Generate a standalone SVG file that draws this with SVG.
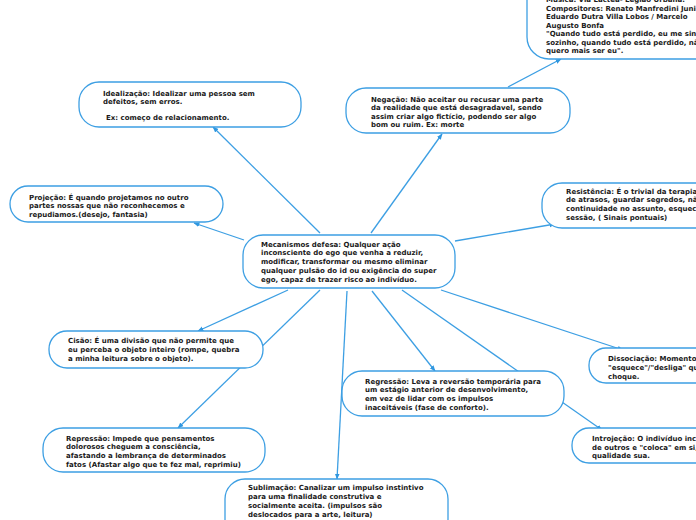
<svg xmlns="http://www.w3.org/2000/svg" width="696" height="520" viewBox="0 0 696 520">
<style>
.n{fill:#fff;stroke:#3d9fe3;stroke-width:1.3}
.t{font-family:"DejaVu Sans",Verdana,sans-serif;font-weight:bold;font-size:7px;fill:#1a1a1a}
.c{stroke:#3d9fe3;stroke-width:1.3;fill:none;marker-end:url(#a)}
</style>
<defs>
<marker id="a" viewBox="0 0 10 10" refX="9" refY="5" markerWidth="6" markerHeight="6" markerUnits="userSpaceOnUse" orient="auto">
<path d="M0,1 L10,5 L0,9 z" fill="#2f97e0"/>
</marker>
</defs>
<rect width="696" height="520" fill="#fff"/>
<g id="connectors">
<line class="c" x1="320" y1="233" x2="213" y2="127"/>
<line class="c" x1="371" y1="233" x2="442" y2="134"/>
<line class="c" x1="508" y1="87" x2="561" y2="59"/>
<line class="c" x1="244" y1="240" x2="194" y2="223"/>
<line class="c" x1="455" y1="241" x2="555" y2="224"/>
<line class="c" x1="288" y1="290" x2="198" y2="331"/>
<line class="c" x1="320" y1="290" x2="178" y2="428"/>
<line class="c" x1="347" y1="291" x2="337" y2="479"/>
<line class="c" x1="372" y1="291" x2="435" y2="371"/>
<line class="c" x1="441" y1="290" x2="623" y2="350"/>
<line class="c" x1="402" y1="290" x2="602" y2="430"/>
</g>
<g id="musica">
<rect class="n" x="527" y="-30" width="200" height="89" rx="22"/>
<text class="t" x="546" y="2">Música: Via Láctea- Legião Urbana.</text>
<text class="t" x="546" y="11">Compositores: Renato Manfredini Junior /</text>
<text class="t" x="546" y="19">Eduardo Dutra Villa Lobos / Marcelo</text>
<text class="t" x="546" y="28">Augusto Bonfa</text>
<text class="t" x="546" y="36">"Quando tudo está perdido, eu me sinto tão</text>
<text class="t" x="546" y="45">sozinho, quando tudo está perdido, não</text>
<text class="t" x="546" y="53">quero mais ser eu".</text>
</g>
<g id="idealizacao">
<rect class="n" x="79" y="82" width="222" height="45" rx="20"/>
<text class="t" x="103" y="96">Idealização: Idealizar uma pessoa sem</text>
<text class="t" x="103" y="104">defeitos, sem erros.</text>
<text class="t" x="106" y="120">Ex: começo de relacionamento.</text>
</g>
<g id="negacao">
<rect class="n" x="346" y="88" width="224" height="45" rx="20"/>
<text class="t" x="371" y="102">Negação: Não aceitar ou recusar uma parte</text>
<text class="t" x="371" y="110">da realidade que está desagradavel, sendo</text>
<text class="t" x="371" y="119">assim criar algo fictício, podendo ser algo</text>
<text class="t" x="371" y="127">bom ou ruim. Ex: morte</text>
</g>
<g id="projecao">
<rect class="n" x="10" y="186" width="213" height="36" rx="18"/>
<text class="t" x="29" y="200">Projeção:  É quando projetamos no outro</text>
<text class="t" x="29" y="208">partes nossas que não reconhecemos e</text>
<text class="t" x="29" y="217">repudiamos.(desejo, fantasia)</text>
</g>
<g id="central">
<rect class="n" x="243" y="235" width="212" height="53" rx="20"/>
<text class="t" x="261" y="247">Mecanismos defesa: Qualquer ação</text>
<text class="t" x="261" y="255">inconsciente do ego que venha a reduzir,</text>
<text class="t" x="261" y="264">modificar, transformar ou mesmo eliminar</text>
<text class="t" x="261" y="273">qualquer pulsão do id ou exigência do super</text>
<text class="t" x="261" y="282">ego, capaz de trazer risco ao indivíduo.</text>
</g>
<g id="resistencia">
<rect class="n" x="542" y="183" width="200" height="45" rx="20"/>
<text class="t" x="566" y="194">Resistência: É o trivial da terapia, através</text>
<text class="t" x="566" y="202">de atrasos, guardar segredos, não dar</text>
<text class="t" x="566" y="211">continuidade no assunto, esquecer a</text>
<text class="t" x="566" y="220">sessão, ( Sinais pontuais)</text>
</g>
<g id="cisao">
<rect class="n" x="49" y="331" width="214" height="37" rx="18"/>
<text class="t" x="68" y="343">Cisão:  É uma divisão que não permite que</text>
<text class="t" x="68" y="352">eu perceba o objeto inteiro (rompe, quebra</text>
<text class="t" x="68" y="361">a minha leitura sobre o objeto).</text>
</g>
<g id="regressao">
<rect class="n" x="342" y="371" width="222" height="45" rx="20"/>
<text class="t" x="365" y="384">Regressão: Leva a reversão temporária para</text>
<text class="t" x="365" y="392">um estágio anterior de desenvolvimento,</text>
<text class="t" x="365" y="401">em vez de lidar com os impulsos</text>
<text class="t" x="365" y="410">inaceitáveis (fase de conforto).</text>
</g>
<g id="dissociacao">
<rect class="n" x="589" y="348" width="150" height="35" rx="17"/>
<text class="t" x="608" y="361">Dissociação: Momento em que</text>
<text class="t" x="608" y="370">"esquece"/"desliga" quando há</text>
<text class="t" x="608" y="379">choque.</text>
</g>
<g id="repressao">
<rect class="n" x="43" y="428" width="222" height="44" rx="20"/>
<text class="t" x="66" y="441">Repressão: Impede que pensamentos</text>
<text class="t" x="66" y="449">dolorosos cheguem a consciência,</text>
<text class="t" x="66" y="458">afastando a lembrança de determinados</text>
<text class="t" x="66" y="467">fatos (Afastar algo que te fez mal, reprimiu)</text>
</g>
<g id="introjecao">
<rect class="n" x="572" y="428" width="170" height="35" rx="17"/>
<text class="t" x="592" y="441">Introjeção: O indivíduo incorpora</text>
<text class="t" x="592" y="450">de outros e "coloca" em si, como</text>
<text class="t" x="592" y="458">qualidade sua.</text>
</g>
<g id="sublimacao">
<rect class="n" x="225" y="479" width="223" height="60" rx="20"/>
<text class="t" x="248" y="490">Sublimação: Canalizar um impulso instintivo</text>
<text class="t" x="248" y="499">para uma finalidade construtiva e</text>
<text class="t" x="248" y="508">socialmente aceita. (impulsos são</text>
<text class="t" x="248" y="517">deslocados para a arte, leitura)</text>
</g>
</svg>
